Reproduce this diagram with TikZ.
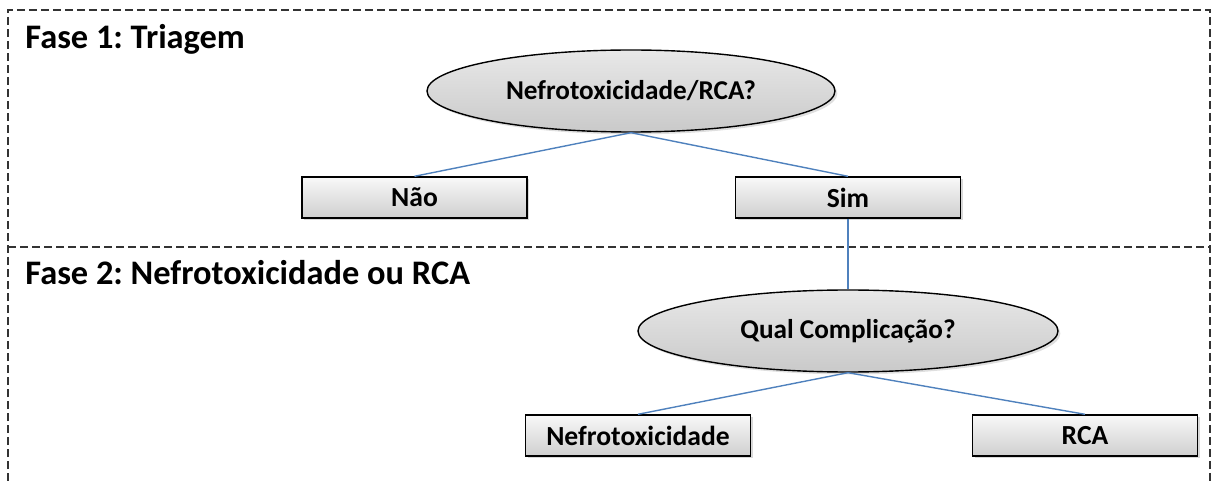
\documentclass[tikz,border=0pt]{standalone}
\usepackage{fontspec}
\setmainfont{Carlito}
\usetikzlibrary{shapes.geometric,shadows}
\definecolor{linkblue}{RGB}{79,129,189}
\frenchspacing

\begin{document}
\begin{tikzpicture}[x=0.5pt, y=-0.5pt,
  caixa/.style={draw, rectangle, line width=0.7pt, inner sep=0pt,
    minimum width=112.5pt, minimum height=20.5pt,
    top color=gray!5, bottom color=gray!38,
    drop shadow={shadow xshift=1.2pt, shadow yshift=-1.2pt, opacity=0.3},
    font=\fontsize{13.8}{15}\selectfont\bfseries},
  oval/.style={draw, ellipse, line width=0.7pt, inner sep=0pt,
    minimum height=41pt, top color=gray!18, bottom color=gray!42,
    drop shadow={shadow xshift=1.2pt, shadow yshift=-1.2pt, opacity=0.25},
    font=\fontsize{13.6}{15}\selectfont\bfseries},
  fase/.style={anchor=base west, inner sep=0pt,
    font=\fontsize{17.2}{19}\selectfont\bfseries},
  liga/.style={draw=linkblue, line width=0.7pt},
  quadro/.style={draw=black!80, line width=0.7pt, dash pattern=on 4pt off 2pt}]
\useasboundingbox (0,0) rectangle (1212,481);

% moldura das fases
\path[quadro] (8,481) -- (8,10) -- (1210,10) -- (1210,481);
\path[quadro] (8,247) -- (1210,247);

\node[fase] at (25,49) (f1) {Fase 1: Triagem};
\node[fase] at (25,285) (f2) {Fase 2: Nefrotoxicidade ou RCA};

% fase 1
\node[oval, minimum width=204pt] at (631,91) (nr) {Nefrotoxicidade/RCA?};
\node[caixa] at (414.5,197.5) (nao) {Não};
\node[caixa] at (848,197.5) (sim) {Sim};

% fase 2
\node[oval, minimum width=210pt] at (848,331) (qc) {Qual Complicação?};
\node[caixa] at (638,435.5) (nefro) {Nefrotoxicidade};
\node[caixa] at (1085,435.5) (rca) {RCA};

\path[liga] (nr.south) -- (nao.north);
\path[liga] (nr.south) -- (sim.north);
\path[liga] (sim.south) -- (qc.north);
\path[liga] (qc.south) -- (nefro.north);
\path[liga] (qc.south) -- (rca.north);

\end{tikzpicture}
\end{document}
